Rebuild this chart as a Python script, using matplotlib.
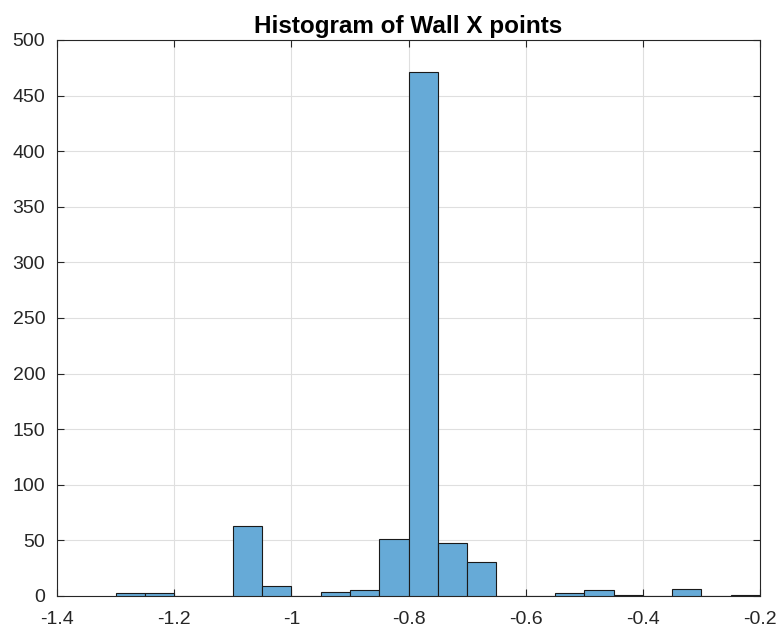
import matplotlib
matplotlib.use("Agg")
import matplotlib.pyplot as plt
import numpy as np

plt.rcParams['font.family'] = ['Liberation Sans', 'DejaVu Sans']
plt.rcParams['axes.unicode_minus'] = False

# bin edges (width 0.05) and counts
bin_left = [-1.30, -1.25, -1.20, -1.15, -1.10, -1.05, -1.00, -0.95, -0.90, -0.85, -0.80,
            -0.75, -0.70, -0.65, -0.60, -0.55, -0.50, -0.45, -0.40, -0.35, -0.30, -0.25]
counts = [3, 3, 0, 0, 63, 9, 0, 4, 5, 51, 471, 48, 31, 0, 0, 3, 5, 1, 0, 6, 0, 1]
bin_width = 0.05

xticks = [-1.4, -1.2, -1.0, -0.8, -0.6, -0.4, -0.2]
xticklabels = ['-1.4', '-1.2', '-1', '-0.8', '-0.6', '-0.4', '-0.2']
yticks = [0, 50, 100, 150, 200, 250, 300, 350, 400, 450, 500]

fig = plt.figure(figsize=(7.8, 6.31), dpi=100)
ax = fig.add_axes([57/780, 1-596/631, 703/780, 556/631])

ax.bar(bin_left, counts, width=bin_width, align='edge',
       color='#66aad7', edgecolor='#1a1a1a', linewidth=0.8, zorder=3)

ax.set_xlim(-1.4, -0.2)
ax.set_ylim(0, 500)
ax.set_xticks(xticks)
ax.set_xticklabels(xticklabels)
ax.set_yticks(yticks)
ax.grid(True, color='#dfdfdf', linewidth=0.8, zorder=0)
ax.set_axisbelow(True)
ax.tick_params(direction='in', top=True, right=True, length=5,
               color='#262626', labelsize=14, labelcolor='#262626')
ax.tick_params(axis='x', pad=11)
ax.tick_params(axis='y', pad=8.5)
for s in ax.spines.values():
    s.set_color('#262626')
    s.set_linewidth(0.8)

ax.set_title('Histogram of Wall X points', fontsize=17.5, fontweight='bold', pad=5)

fig.savefig('out.png', dpi=100)
